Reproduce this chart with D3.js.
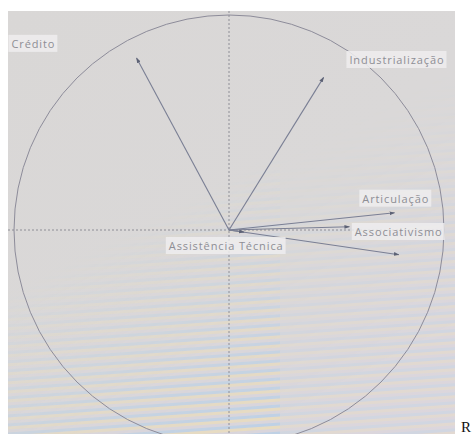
<!DOCTYPE html>
<html><head><meta charset="utf-8">
<script src="https://cdn.jsdelivr.net/npm/d3@7"></script>
<style>html,body{margin:0;padding:0;background:#fff;}svg{display:block;}</style>
</head><body>
<svg id="c" width="474" height="434"></svg>
<script>
// Variable names and their loadings on Dim1 / Dim2
const variables = ["Crédito", "Industrialização", "Articulação", "Associativismo", "Associativismo2", "Assistência Técnica"];
const dim1 = [-0.43, 0.44, 0.77, 0.56, 0.79, 0.07];
const dim2 = [0.80, 0.71, 0.08, 0.015, -0.115, -0.01];
const labels = ["Crédito", "Industrialização", "Articulação", "Associativismo", "", "Assistência Técnica"];

const svg = d3.select("#c");
const W = 474, H = 434;
const cx = 229, cy = 230, R = 215;
const x = d3.scaleLinear().domain([-1, 1]).range([cx - R, cx + R]);
const y = d3.scaleLinear().domain([-1, 1]).range([cy + R, cy - R]);

const defs = svg.append("defs");
const bg = defs.append("linearGradient").attr("id", "bg").attr("x1", 0).attr("y1", 0).attr("x2", 1).attr("y2", 1);
bg.append("stop").attr("offset", "0%").attr("stop-color", "#d9d7d6");
bg.append("stop").attr("offset", "55%").attr("stop-color", "#dad8d8");
bg.append("stop").attr("offset", "100%").attr("stop-color", "#ddd8de");
const stripes = defs.append("pattern").attr("id", "stripes").attr("patternUnits", "userSpaceOnUse")
  .attr("width", 60).attr("height", 9).attr("patternTransform", "rotate(-4)");
stripes.append("rect").attr("width", 60).attr("height", 3).attr("fill", "#b6cfe8");
stripes.append("rect").attr("y", 3).attr("width", 60).attr("height", 3).attr("fill", "#ebdcb8");
stripes.append("rect").attr("y", 6).attr("width", 60).attr("height", 3).attr("fill", "#d8d4dc");
const fade = defs.append("linearGradient").attr("id", "fade").attr("x1", 0).attr("y1", 0).attr("x2", 0.55).attr("y2", 1);
fade.append("stop").attr("offset", "50%").attr("stop-color", "#fff").attr("stop-opacity", 0);
fade.append("stop").attr("offset", "100%").attr("stop-color", "#fff").attr("stop-opacity", 0.9);
const mask = defs.append("mask").attr("id", "m");
mask.append("rect").attr("x", 8).attr("y", 11).attr("width", 447).attr("height", 423).attr("fill", "url(#fade)");
mask.append("rect").attr("x", 280).attr("y", 11).attr("width", 175).attr("height", 423).attr("fill", "#000").attr("opacity", 0.6);

defs.append("marker").attr("id", "arr").attr("viewBox", "0 0 10 10").attr("refX", 9).attr("refY", 5)
  .attr("markerWidth", 5).attr("markerHeight", 5).attr("orient", "auto")
  .append("path").attr("d", "M0,1.5L10,5L0,8.5Z").attr("fill", "#5d6275");

// photo background
svg.append("rect").attr("x", 8).attr("y", 11).attr("width", 447).attr("height", 423).attr("fill", "url(#bg)");
svg.append("rect").attr("x", 8).attr("y", 11).attr("width", 447).attr("height", 423).attr("fill", "url(#stripes)").attr("mask", "url(#m)").attr("opacity", 0.85);

// axes through origin (dashed)
svg.append("line").attr("x1", 8).attr("x2", x(1)).attr("y1", y(0)).attr("y2", y(0))
  .attr("stroke", "#8e8e96").attr("stroke-width", 1).attr("stroke-dasharray", "2,2");
svg.append("line").attr("x1", x(0)).attr("x2", x(0)).attr("y1", 11).attr("y2", H)
  .attr("stroke", "#8e8e96").attr("stroke-width", 1).attr("stroke-dasharray", "2,2");

// correlation circle
svg.append("circle").attr("cx", x(0)).attr("cy", y(0)).attr("r", x(1) - x(0))
  .attr("fill", "none").attr("stroke", "#8d8c9a").attr("stroke-width", 1);

const data = variables.map((v, i) => ({ name: v, label: labels[i], d1: dim1[i], d2: dim2[i] }));

// arrows
svg.append("g").selectAll("line").data(data).join("line")
  .attr("x1", x(0)).attr("y1", y(0))
  .attr("x2", d => x(d.d1)).attr("y2", d => y(d.d2))
  .attr("stroke", "#7a7f94").attr("stroke-width", 1.1)
  .attr("marker-end", "url(#arr)");

// label placement (repelled positions, as drawn)
const labelPos = {
  "Crédito": [-1.012, 0.865],
  "Industrialização": [0.56, 0.79],
  "Articulação": [0.62, 0.145],
  "Associativismo": [0.585, -0.01],
  "Assistência Técnica": [-0.28, -0.075]
};
const lg = svg.append("g").attr("font-family", "'Open Sans', 'DejaVu Sans', sans-serif")
  .attr("font-size", 11).attr("letter-spacing", 0.9);
data.filter(d => d.label).forEach(d => {
  const p = labelPos[d.name];
  const t = lg.append("text").attr("x", x(p[0])).attr("y", y(p[1])).attr("dy", "0.35em")
    .attr("fill", "#8e8e95").text(d.label);
  const b = t.node().getBBox();
  lg.insert("rect", "text").attr("x", b.x - 3).attr("y", b.y - 1).attr("width", b.width + 5).attr("height", b.height + 2)
    .attr("fill", "#eeedee").attr("opacity", 0.85);
});

// stray letter at the right margin
svg.append("text").attr("x", 461).attr("y", 432).attr("font-family", "'Liberation Serif', serif")
  .attr("font-size", 15).attr("fill", "#111").text("R");
</script>
</body></html>
